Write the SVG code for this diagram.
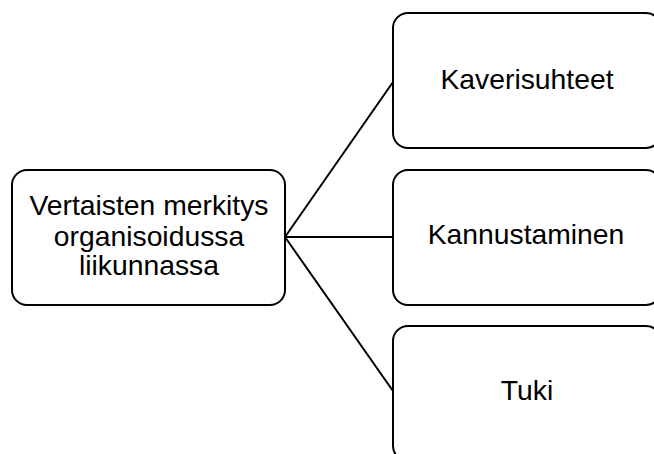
<svg xmlns="http://www.w3.org/2000/svg" width="654" height="454" viewBox="0 0 654 454">
<style>
.box{fill:#fff;stroke:#000;stroke-width:2}
.t{font-family:"Liberation Sans",Arial,sans-serif;font-size:28.3px;fill:#000;text-anchor:middle}
.c{stroke:#000;stroke-width:2;fill:none}
</style>
<rect width="654" height="454" fill="#fff"/>
<g id="connectors">
<line class="c" x1="285" y1="237" x2="393" y2="82"/>
<line class="c" x1="285" y1="237" x2="393" y2="237"/>
<line class="c" x1="285" y1="237" x2="393" y2="391"/>
</g>
<g id="root">
<rect class="box" x="12" y="170" width="273" height="135" rx="15"/>
<text class="t" x="149" y="215">Vertaisten merkitys</text>
<text class="t" x="149" y="246">organisoidussa</text>
<text class="t" x="149" y="275">liikunnassa</text>
</g>
<g id="kaverisuhteet">
<rect class="box" x="393" y="13" width="268" height="135" rx="15"/>
<text class="t" x="527" y="89">Kaverisuhteet</text>
</g>
<g id="kannustaminen">
<rect class="box" x="393" y="170" width="268" height="135" rx="15"/>
<text class="t" x="526" y="244">Kannustaminen</text>
</g>
<g id="tuki">
<rect class="box" x="393" y="326" width="268" height="135" rx="15"/>
<text class="t" x="527" y="400">Tuki</text>
</g>
</svg>
